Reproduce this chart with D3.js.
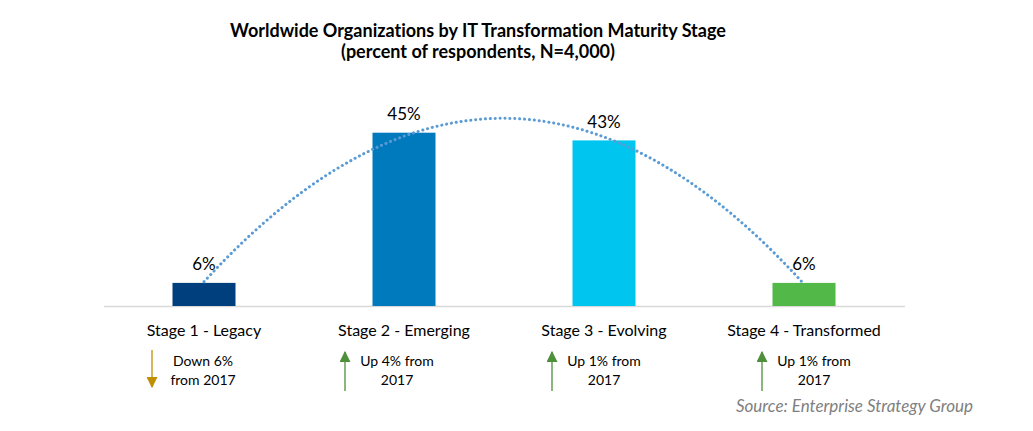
<!DOCTYPE html>
<html>
<head>
<meta charset="utf-8">
<script src="https://cdn.jsdelivr.net/npm/d3@7"></script>
<style>
	body { margin: 0; background: #fff; }
	text { font-family: Lato, "Open Sans", sans-serif; fill: #000; font-variant-ligatures: none; }
	.title { font-weight: bold; font-size: 18px; }
	.value-label { font-size: 17px; }
	.cat-label { font-size: 16px; }
	.note { font-size: 14px; }
	.source { font-style: italic; font-size: 17px; fill: #7f7f7f; }
</style>
</head>
<body>
<div id="chart"></div>
<script>

///////////////////////////////////////////////////////////////////////////
/////////////////////////////// The data //////////////////////////////////
///////////////////////////////////////////////////////////////////////////

var categories = ["Stage 1 - Legacy", "Stage 2 - Emerging", "Stage 3 - Evolving", "Stage 4 - Transformed"];
var values = [6, 45, 43, 6]; //percent of respondents
var changes = [-6, 4, 1, 1]; //change from 2017
var noteLines = [
	["Down 6%", "from 2017"],
	["Up 4% from", "2017"],
	["Up 1% from", "2017"],
	["Up 1% from", "2017"]
];
var titleLines = ["Worldwide Organizations by IT Transformation Maturity Stage", "(percent of respondents, N=4,000)"];
var sourceText = "Source: Enterprise Strategy Group";

///////////////////////////////////////////////////////////////////////////
//////////////////////////// Set up the SVG ///////////////////////////////
///////////////////////////////////////////////////////////////////////////

var width = 1033,
	height = 431;

var barColors = ["#003f7d", "#007abd", "#00c6ef", "#52b848"];
var upColor = "#4e8f3a",
	downColor = "#bf8f00";

//small layout tweaks for the notes under each stage
var arrowDx = [-52, -59, -52, -42],
	noteDx = [-1, -7, 0, 10];

var svg = d3.select("#chart")
	.append("svg")
	.attr("width", width)
	.attr("height", height);

var x = d3.scaleBand()
	.domain(categories)
	.range([104, 904])
	.paddingInner(0.685)
	.paddingOuter(0.3425);

var y = d3.scaleLinear()
	.domain([0, 45])
	.range([306, 132.7]);

///////////////////////////////////////////////////////////////////////////
/////////////////////////////// Title /////////////////////////////////////
///////////////////////////////////////////////////////////////////////////

svg.selectAll(".title")
	.data(titleLines)
	.enter().append("text")
	.attr("class", "title")
	.attr("x", 478)
	.attr("y", function(d,i) { return 36.5 + i*21; })
	.attr("text-anchor", "middle")
	.text(function(d) { return d; });

///////////////////////////////////////////////////////////////////////////
/////////////////////////////// Bars //////////////////////////////////////
///////////////////////////////////////////////////////////////////////////

//Baseline
svg.append("line")
	.attr("x1", 104)
	.attr("x2", 905)
	.attr("y1", y(0) + 0.5)
	.attr("y2", y(0) + 0.5)
	.style("stroke", "#d9d9d9")
	.style("stroke-width", 1.5);

svg.selectAll(".bar")
	.data(values)
	.enter().append("rect")
	.attr("class", "bar")
	.attr("x", function(d,i) { return x(categories[i]); })
	.attr("y", function(d) { return y(d); })
	.attr("width", x.bandwidth())
	.attr("height", function(d) { return y(0) - y(d); })
	.style("fill", function(d,i) { return barColors[i]; });

svg.selectAll(".value-label")
	.data(values)
	.enter().append("text")
	.attr("class", "value-label")
	.attr("x", function(d,i) { return x(categories[i]) + x.bandwidth()/2; })
	.attr("y", function(d) { return y(d) - 12.5; })
	.attr("text-anchor", "middle")
	.text(function(d) { return d + "%"; });

///////////////////////////////////////////////////////////////////////////
///////////////////// Polynomial (2nd order) trendline ////////////////////
///////////////////////////////////////////////////////////////////////////

//Least squares fit of v = a + b*t + c*t^2 with t = 1..n
function fitQuadratic(vals) {
	var S = [0,0,0,0,0], T = [0,0,0];
	vals.forEach(function(v,i) {
		var t = i + 1;
		for (var k = 0; k < 5; k++) S[k] += Math.pow(t, k);
		for (var k = 0; k < 3; k++) T[k] += v * Math.pow(t, k);
	});
	var M = [[S[0],S[1],S[2],T[0]],[S[1],S[2],S[3],T[1]],[S[2],S[3],S[4],T[2]]];
	for (var c = 0; c < 3; c++) {
		for (var r = c+1; r < 3; r++) {
			var f = M[r][c] / M[c][c];
			for (var k = c; k < 4; k++) M[r][k] -= f * M[c][k];
		}
	}
	var coef = [0,0,0];
	for (var r = 2; r >= 0; r--) {
		var s = M[r][3];
		for (var k = r+1; k < 3; k++) s -= M[r][k] * coef[k];
		coef[r] = s / M[r][r];
	}
	return coef;
}

var coef = fitQuadratic(values);
var xIndex = d3.scaleLinear()
	.domain([1, categories.length])
	.range([x(categories[0]) + x.bandwidth()/2, x(categories[categories.length-1]) + x.bandwidth()/2]);

var trend = d3.range(1, categories.length + 0.001, 0.05).map(function(t) {
	return [t, coef[0] + coef[1]*t + coef[2]*t*t];
});

svg.append("path")
	.datum(trend)
	.attr("d", d3.line()
		.x(function(d) { return xIndex(d[0]); })
		.y(function(d) { return y(d[1]); }))
	.style("fill", "none")
	.style("stroke", "#5b9bd5")
	.style("stroke-width", 3)
	.style("stroke-linecap", "round")
	.style("stroke-dasharray", "0.1 4.8");

///////////////////////////////////////////////////////////////////////////
//////////////////////// Category labels & notes //////////////////////////
///////////////////////////////////////////////////////////////////////////

svg.selectAll(".cat-label")
	.data(categories)
	.enter().append("text")
	.attr("class", "cat-label")
	.attr("x", function(d) { return x(d) + x.bandwidth()/2; })
	.attr("y", 336)
	.attr("text-anchor", "middle")
	.text(function(d) { return d; });

var defs = svg.append("defs");
[["up", upColor], ["down", downColor]].forEach(function(m) {
	defs.append("marker")
		.attr("id", "arrow-" + m[0])
		.attr("viewBox", "0 0 10 10")
		.attr("refX", 9)
		.attr("refY", 5)
		.attr("markerUnits", "userSpaceOnUse")
		.attr("markerWidth", 11)
		.attr("markerHeight", 11)
		.attr("orient", "auto")
		.append("path")
		.attr("d", "M0,0 L10,5 L0,10 Z")
		.style("fill", m[1]);
});

var notes = svg.selectAll(".note-group")
	.data(changes)
	.enter().append("g")
	.attr("class", "note-group")
	.attr("transform", function(d,i) { 
		return "translate(" + (x(categories[i]) + x.bandwidth()/2) + ",0)"; 
	});

notes.append("line")
	.attr("x1", function(d,i) { return arrowDx[i]; })
	.attr("x2", function(d,i) { return arrowDx[i]; })
	.attr("y1", function(d) { return d < 0 ? 350 : 391; })
	.attr("y2", function(d) { return d < 0 ? 387 : 352; })
	.style("stroke", function(d) { return d < 0 ? downColor : upColor; })
	.style("stroke-width", 1.3)
	.attr("marker-end", function(d) { return d < 0 ? "url(#arrow-down)" : "url(#arrow-up)"; });

notes.each(function(d,i) {
	d3.select(this).selectAll(".note")
		.data(noteLines[i])
		.enter().append("text")
		.attr("class", "note")
		.attr("x", noteDx[i])
		.attr("y", function(t,j) { return 366 + j*19; })
		.attr("text-anchor", "middle")
		.text(function(t) { return t; });
});

//Source
svg.append("text")
	.attr("class", "source")
	.attr("x", 973)
	.attr("y", 412)
	.attr("text-anchor", "end")
	.text(sourceText);

</script>
</body>
</html>
